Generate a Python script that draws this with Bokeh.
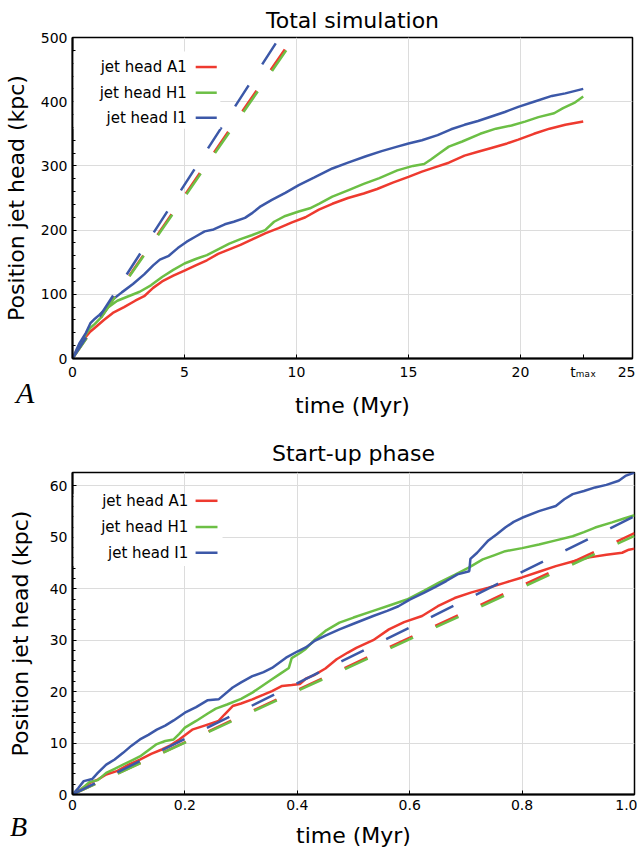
from bokeh.plotting import figure
from bokeh.layouts import column
from bokeh.models import FixedTicker, Label, BoxAnnotation, Div
from bokeh.embed import file_html
from bokeh.resources import INLINE

RED = "#ee3a2f"
GREEN = "#6cbf45"
BLUE = "#3c58a8"
FONT = "DejaVu Sans"

names = ["jet head A1", "jet head H1", "jet head I1"]
colors = [RED, GREEN, BLUE]

# --- total simulation: time (Myr) vs head position (kpc)
t_a1 = [0, 0.3, 0.6, 0.8, 1.0, 1.4, 1.8, 2.3, 2.8, 3.2, 3.6, 4.0, 4.5, 5.0, 5.5, 6.0,
        6.5, 7.0, 7.5, 8.0, 8.6, 9.2, 9.8, 10.4, 11.0, 11.6, 12.3, 13.0, 13.6, 14.3,
        15.0, 15.6, 16.2, 16.8, 17.5, 18.1, 18.7, 19.4, 19.9, 20.6, 21.3, 22.0, 22.8]
r_a1 = [0, 18, 34, 42, 48, 60, 71, 80, 90, 97, 110, 120, 129, 137, 145, 153,
        163, 170, 177, 185, 195, 203, 212, 220, 232, 241, 250, 257, 264, 274,
        283, 291, 298, 305, 316, 322, 328, 335, 341, 350, 358, 364, 369]

t_h1 = [0, 0.3, 0.6, 0.8, 1.0, 1.3, 1.6, 2.0, 2.5, 3.0, 3.5, 4.0, 4.5, 5.0, 5.5, 6.0,
        6.5, 7.0, 7.5, 8.0, 8.6, 9.0, 9.5, 10.1, 10.6, 11.0, 11.6, 12.3, 13.0, 13.7,
        14.5, 15.2, 15.7, 16.0, 16.4, 16.8, 17.4, 18.2, 18.9, 19.6, 20.2, 20.8, 21.5,
        21.9, 22.4, 22.8]
r_h1 = [0, 19, 38, 48, 54, 65, 80, 90, 97, 104, 114, 127, 138, 148, 155, 161,
        170, 179, 186, 192, 200, 213, 222, 229, 234, 241, 252, 262, 272, 281,
        293, 300, 303, 310, 320, 330, 338, 350, 358, 363, 369, 376, 382,
        390, 398, 408]

t_i1 = [0, 0.3, 0.6, 0.8, 1.0, 1.2, 1.5, 1.8, 2.2, 2.7, 3.2, 3.6, 3.9, 4.3, 4.7, 5.1,
        5.5, 5.9, 6.3, 6.8, 7.2, 7.7, 8.0, 8.4, 8.9, 9.5, 10.1, 10.8, 11.6, 12.3,
        13.1, 13.8, 14.5, 15.0, 15.6, 16.3, 16.9, 17.5, 18.1, 18.7, 19.3, 19.9, 20.6,
        21.4, 22.0, 22.8]
r_i1 = [0, 23, 40, 55, 62, 68, 78, 92, 103, 116, 131, 145, 154, 160, 172, 182,
        190, 198, 201, 209, 213, 219, 226, 237, 247, 258, 270, 282, 296, 305,
        315, 323, 330, 335, 340, 348, 357, 364, 370, 377, 384, 392, 400,
        409, 413, 420]

# --- start-up phase (first Myr)
s_t_a1 = [0, 0.015, 0.03, 0.045, 0.06, 0.08, 0.1, 0.12, 0.14, 0.16, 0.175, 0.19, 0.2,
          0.213, 0.235, 0.26, 0.27, 0.285, 0.3, 0.32, 0.34, 0.355, 0.373, 0.39, 0.405,
          0.415, 0.43, 0.45, 0.47, 0.49, 0.505, 0.535, 0.563, 0.59, 0.622, 0.65, 0.68,
          0.71, 0.74, 0.77, 0.8, 0.83, 0.86, 0.89, 0.92, 0.95, 0.978, 0.99, 1.0]
s_r_a1 = [0, 1.0, 2.2, 2.9, 3.9, 4.6, 5.8, 6.8, 7.9, 8.8, 9.6, 10.7, 11.5,
          12.6, 13.4, 14.3, 15.5, 17.2, 17.7, 18.5, 19.4, 20.1, 21.1, 21.3, 21.5,
          22.5, 23.2, 24.5, 26.3, 27.6, 28.5, 30.0, 32.1, 33.5, 34.7, 36.6, 38.2,
          39.3, 40.2, 41.2, 42.2, 43.3, 44.4, 45.3, 46.1, 46.6, 47.0, 47.6, 47.8]

s_t_h1 = [0, 0.015, 0.03, 0.045, 0.06, 0.075, 0.09, 0.105, 0.12, 0.135, 0.15, 0.165,
          0.18, 0.19, 0.2, 0.22, 0.24, 0.255, 0.275, 0.3, 0.32, 0.34, 0.355, 0.37,
          0.385, 0.39, 0.405, 0.415, 0.432, 0.45, 0.475, 0.5, 0.535, 0.565, 0.595,
          0.625, 0.652, 0.68, 0.705, 0.73, 0.75, 0.77, 0.8, 0.83, 0.86, 0.89, 0.91,
          0.93, 0.96, 0.98, 1.0]
s_r_h1 = [0, 1.0, 2.4, 2.8, 4.2, 5.0, 5.8, 6.6, 7.4, 8.6, 9.8, 10.4,
          10.7, 11.8, 13.0, 14.3, 15.7, 16.7, 17.5, 18.6, 19.8, 21.3, 22.4, 23.5,
          24.6, 26.5, 27.5, 28.3, 30.2, 31.8, 33.4, 34.4, 35.7, 36.8, 37.9,
          39.6, 41.2, 42.7, 44.1, 45.7, 46.5, 47.3, 47.9, 48.6, 49.4, 50.2, 51.0,
          51.9, 52.9, 53.6, 54.3]

s_t_i1 = [0, 0.01, 0.02, 0.035, 0.045, 0.06, 0.075, 0.09, 0.105, 0.12, 0.135, 0.15,
          0.165, 0.18, 0.2, 0.22, 0.24, 0.26, 0.285, 0.3, 0.32, 0.34, 0.355, 0.38,
          0.4, 0.415, 0.43, 0.45, 0.475, 0.5, 0.535, 0.56, 0.58, 0.6, 0.625, 0.645,
          0.665, 0.685, 0.706, 0.708, 0.72, 0.74, 0.755, 0.77, 0.785, 0.8, 0.83, 0.86,
          0.875, 0.89, 0.91, 0.93, 0.95, 0.972, 0.985, 1.0]
s_r_i1 = [0, 1.2, 2.6, 3.0, 4.2, 5.8, 6.8, 8.1, 9.5, 10.7, 11.6, 12.6,
          13.4, 14.4, 15.9, 17.0, 18.3, 18.5, 20.8, 21.8, 23.0, 23.8, 24.6, 26.6,
          27.8, 28.6, 29.8, 30.9, 32.1, 33.2, 34.7, 35.7, 36.6, 37.9, 39.2, 40.3,
          41.5, 42.8, 43.4, 45.8, 47.0, 49.4, 50.6, 51.9, 53.0, 53.8, 55.1, 56.1,
          57.4, 58.4, 59.0, 59.7, 60.2, 61.0, 62.0, 62.6]

# constant-speed estimates (kpc/Myr), dashed
speeds = [50.8, 50.3, 54.1]
t_max = 22.8


def style(p, xticks, xlabels, yticks, yminor, xgrid, ygrid, ylab_standoff):
    p.background_fill_color = "white"
    p.border_fill_color = "white"
    p.outline_line_color = "black"
    p.outline_line_width = 1.5
    p.title.text_font = FONT
    p.title.text_font_size = "22px"
    p.title.text_font_style = "normal"
    p.title.text_color = "black"
    p.title.align = "center"
    p.title.standoff = 10
    p.xaxis.ticker = FixedTicker(ticks=xticks)
    p.xaxis.major_label_overrides = xlabels
    p.yaxis.ticker = FixedTicker(ticks=yticks, minor_ticks=yminor)
    p.xgrid.ticker = FixedTicker(ticks=xgrid)
    p.ygrid.ticker = FixedTicker(ticks=ygrid)
    for g in (p.xgrid, p.ygrid):
        g.grid_line_color = "#dcdcdc"
        g.grid_line_width = 1
    for ax in (p.xaxis, p.yaxis):
        ax.axis_line_width = 2
        ax.axis_line_color = "black"
        ax.major_tick_in = 4
        ax.major_tick_out = 0
        ax.major_tick_line_color = "black"
        ax.minor_tick_out = 0
        ax.major_label_text_font = FONT
        ax.major_label_text_font_size = "14px"
        ax.major_label_text_color = "black"
        ax.axis_label_text_font = FONT
        ax.axis_label_text_font_size = "22px"
        ax.axis_label_text_font_style = "normal"
        ax.axis_label_text_color = "black"
        ax.major_label_standoff = 5
    p.yaxis.minor_tick_in = 3
    p.yaxis.minor_tick_line_color = "black"
    p.xaxis.minor_tick_in = 0
    p.xaxis.axis_label_standoff = 10
    p.yaxis.axis_label_standoff = ylab_standoff


def legend(p, x_text, x0, x1, ys, box):
    p.add_layout(BoxAnnotation(left=box[0], right=box[1], bottom=box[2], top=box[3],
                               fill_color="white", fill_alpha=1, line_alpha=0))
    for name, c, y in zip(names, colors, ys):
        p.add_layout(Label(x=x_text, y=y, text=name, text_align="right",
                           text_baseline="middle", text_font=FONT,
                           text_font_size="15px", text_color="black"))
        p.line([x0, x1], [y, y], line_color=c, line_width=2.5, level="overlay")


def panel_letter(letter, left, top, size):
    # zero-height strip; the letter is shifted up over the plot above it
    html = ('<div style="position:relative; left:%dpx; top:%dpx; width:40px; '
            'font-family:\'Liberation Serif\'; font-style:italic; font-size:%dpx; '
            'line-height:30px; color:black;">%s</div>' % (left, top, size, letter))
    return Div(text=html, width=628, height=0, margin=(0, 0, 0, 0),
               styles={"overflow": "visible"})


# ---------------- top panel
p1 = figure(frame_width=560, frame_height=321, min_border_left=65, min_border_right=3,
            min_border_top=37, min_border_bottom=67,
            x_range=(0, 25), y_range=(0, 500), title="Total simulation",
            x_axis_label="time (Myr)", y_axis_label="Position jet head (kpc)",
            output_backend="svg", toolbar_location=None)
style(p1, [0, 5, 10, 15, 20, t_max, 25],
      {0: "0", 5: "5", 10: "10", 15: "15", 20: "20", t_max: "tₘₐₓ", 25: "25"},
      [0, 100, 200, 300, 400, 500], [v for v in range(20, 500, 20) if v % 100],
      [5, 10, 15, 20], [100, 200, 300, 400], 9)

for t, r, c in zip([t_a1, t_h1, t_i1], [r_a1, r_h1, r_i1], colors):
    p1.line(t, r, line_color=c, line_width=2.5)
for s, c in zip(speeds, colors):
    p1.line([0, 10], [0, s * 10], line_color=c, line_width=2.5, line_dash="25 25")

legend(p1, 5.1, 5.5, 6.44, [454, 414, 375], (0.05, 6.6, 358, 478))

# ---------------- bottom panel
p2 = figure(frame_width=562, frame_height=322, min_border_left=59, min_border_right=7,
            min_border_top=47, min_border_bottom=55,
            x_range=(0, 1), y_range=(0, 62.6), title="Start-up phase",
            x_axis_label="time (Myr)", y_axis_label="Position jet head (kpc)",
            output_backend="svg", toolbar_location=None)
style(p2, [0, 0.2, 0.4, 0.6, 0.8, 1.0],
      {0: "0", 0.2: "0.2", 0.4: "0.4", 0.6: "0.6", 0.8: "0.8", 1.0: "1.0"},
      [0, 10, 20, 30, 40, 50, 60], [v for v in range(2, 62, 2) if v % 10],
      [0.2, 0.4, 0.6, 0.8], [10, 20, 30, 40, 50, 60], 14)
p2.title.standoff = 14

for t, r, c in zip([s_t_a1, s_t_h1, s_t_i1], [s_r_a1, s_r_h1, s_r_i1], colors):
    p2.line(t, r, line_color=c, line_width=2.5)
for s, c in zip(speeds, colors):
    p2.line([0, 1], [0, s], line_color=c, line_width=2.5, line_dash="25 25")

legend(p2, 0.206, 0.219, 0.258, [57.1, 52.0, 47.0], (0.002, 0.267, 44.4, 58.4))

layout = column(p1, panel_letter("A", 16, -47, 30), p2, panel_letter("B", 10, -38, 28),
                spacing=0)
open("out.html", "w").write(file_html(layout, INLINE))
